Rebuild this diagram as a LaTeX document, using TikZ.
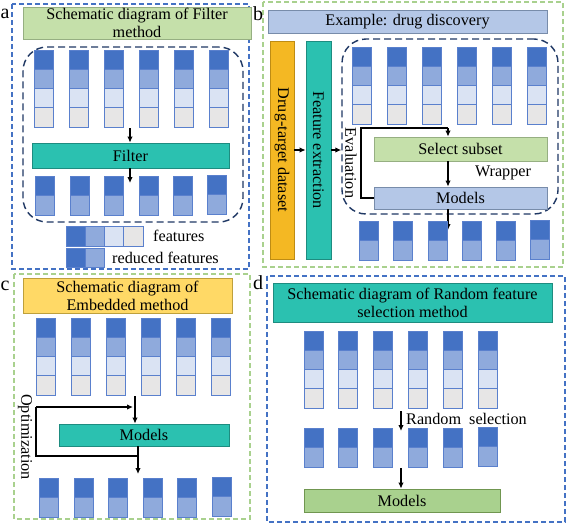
\documentclass[tikz,border=0pt]{standalone}
\usepackage{fontspec}
\setmainfont{Liberation Serif}
\usetikzlibrary{arrows.meta}
\definecolor{cA}{RGB}{68,114,196}
\definecolor{cB}{RGB}{143,170,220}
\definecolor{cC}{RGB}{218,227,243}
\definecolor{cD}{RGB}{231,230,230}
\definecolor{cBd}{RGB}{90,128,205}
\definecolor{teal}{RGB}{43,193,176}
\definecolor{tealBd}{RGB}{30,140,128}
\definecolor{orng}{RGB}{244,184,35}
\definecolor{orngBd}{RGB}{190,140,20}
\definecolor{ltgreen}{RGB}{197,224,170}
\definecolor{ltgreenBd}{RGB}{150,175,130}
\definecolor{mgreen}{RGB}{169,209,142}
\definecolor{mgreenBd}{RGB}{112,150,80}
\definecolor{ltblue}{RGB}{180,199,231}
\definecolor{ltblueBd}{RGB}{120,140,170}
\definecolor{yell}{RGB}{255,217,102}
\definecolor{yellBd}{RGB}{190,160,60}
\definecolor{navy}{RGB}{31,56,100}
\definecolor{frB}{RGB}{68,114,196}
\definecolor{frG}{RGB}{169,209,142}
\tikzset{
  every node/.style={font=\fontsize{16.2}{18}\selectfont},
  fullcol/.pic={
    \foreach \i/\c in {0/cA,1/cB,2/cC,3/cD}
      \path[draw=cBd, fill=\c, line width=0.7pt] (0,\i*19.25) rectangle ++(19,19.25);
  },
  redcol/.pic={
    \foreach \i/\c in {0/cA,1/cB}
      \path[draw=cBd, fill=\c, line width=0.7pt] (0,\i*19.5) rectangle ++(19,19.5);
  },
  frameblue/.style={draw=frB, dash pattern=on 5pt off 3pt, line width=1.3pt},
  framegreen/.style={draw=frG, dash pattern=on 5pt off 3pt, line width=1.2pt},
  region/.style={draw=navy, dash pattern=on 7pt off 4pt, line width=1.4pt, rounded corners=24pt, inner sep=0pt},
  box/.style={rectangle, inner sep=0pt, line width=0.8pt, align=center},
  arr/.style={-{Latex[length=6pt,width=5.5pt]}, line width=1.4pt},
  loopln/.style={line width=1.3pt},
  lbl/.style={font=\fontsize{20}{22}\selectfont}
}
\begin{document}
\begin{tikzpicture}[x=1pt,y=-1pt]
\useasboundingbox[fill=white] (0,0) rectangle (567,525);

% ================= Panel a =================
\draw[framegreen] (14,274) rectangle (250,519);
\draw[frameblue] (12,4) rectangle (249,269);
\node[lbl] (la) at (5,14) {a};
\node[box, fill=ltgreen, draw=ltgreenBd, minimum width=228pt, minimum height=32pt] (tA) at (137,23) {Schematic diagram of Filter\\method};
\node[region, minimum width=220pt, minimum height=175pt] (regA) at (133,134.5) {};
\foreach \x in {34,69,104,139,174,209} \pic at (\x,50) {fullcol};
\node[box, fill=teal, draw=tealBd, minimum width=197pt, minimum height=25pt] (filterA) at (130.5,155.5) {Filter};
\coordinate (aTop) at (130,128);
\coordinate (aBot) at (130,183);
\draw[arr] (aTop) -- (aTop |- filterA.north);
\draw[arr] (aTop |- filterA.south) -- (aBot);
\foreach \x in {35,70,104,139,173} \pic at (\x,176) {redcol};
\pic at (207,175) {redcol};
% legend
\foreach \i/\c in {0/cA,1/cB,2/cC,3/cD}
  \path[draw=cBd, fill=\c, line width=0.7pt] (66+\i*19.25,226) rectangle ++(19.25,20);
\foreach \i/\c in {0/cA,1/cB}
  \path[draw=cBd, fill=\c, line width=0.7pt] (66+\i*19,248) rectangle ++(19,19);
\node[anchor=west, inner sep=0pt] (featA) at (153,236) {features};
\node[anchor=west, inner sep=0pt] (redA) at (112,258) {reduced features};

% ================= Panel b =================
\draw[framegreen] (263,2) rectangle (563,267);
\node[lbl] (lb) at (258,14) {b};
\node[box, fill=ltblue, draw=ltblueBd, minimum width=279pt, minimum height=23pt] (tB) at (407.5,21.5) {Example: drug discovery};
\node[box, fill=orng, draw=orngBd, rotate=-90, minimum width=218pt, minimum height=24pt] (dsB) at (282,150) {Drug-target dataset};
\node[box, fill=teal, draw=tealBd, rotate=-90, minimum width=218pt, minimum height=25pt] (feB) at (318.5,150) {Feature extraction};
\node[region, minimum width=216pt, minimum height=175pt] (regB) at (450,126.5) {};
\draw[arr] (dsB.north) -- (feB.south);
\draw[arr] (feB.north) -- (feB.north -| regB.west);
\foreach \x in {352,387,422,457,492,527} \pic at (\x,47) {fullcol};
\node[box, fill=ltgreen, draw=ltgreenBd, minimum width=173pt, minimum height=24pt] (selB) at (460.5,149) {Select subset};
\node[box, fill=ltblue, draw=ltblueBd, minimum width=173pt, minimum height=22pt] (modB) at (460.5,198) {Models};
\node[rotate=-90, inner sep=0pt] (evB) at (351,163) {Evaluation};
\node (wrB) at (503,173) {Wrapper};
\coordinate (bLoopL) at (361,128);
\coordinate (bOut) at (448,230);
\draw[loopln] (modB.west) -- (modB.west -| bLoopL) -- (bLoopL) -- (bLoopL -| bOut);
\draw[arr] (bLoopL -| bOut) -- (bOut |- selB.north);
\draw[arr] (bOut |- selB.south) -- (bOut |- modB.north);
\draw[arr] (bOut |- modB.south) -- (bOut);
\foreach \x in {359,393,428,462,496} \pic at (\x,221) {redcol};
\pic at (530,220) {redcol};

% ================= Panel c =================
\node[lbl] (lc) at (5,286) {c};
\node[box, fill=yell, draw=yellBd, minimum width=209pt, minimum height=35pt] (tC) at (127.5,295.5) {Schematic diagram of\\Embedded method};
\foreach \x in {36,71,106,141,176,211} \pic at (\x,318) {fullcol};
\node[box, fill=teal, draw=tealBd, minimum width=170pt, minimum height=22pt] (modC) at (144,435) {Models};
\coordinate (cIn) at (135,396);
\draw[arr] (cIn) -- (cIn |- modC.north);
\coordinate (cOut) at (138,474);
\coordinate (cJ) at (138,456);
\coordinate (cL) at (36,407);
\draw[arr] (cOut |- modC.south) -- (cOut);
\draw[loopln] (cJ) -- (cJ -| cL) -- (cL);
\draw[arr] (cL) -- (133,407);
\node[rotate=-90, inner sep=0pt] (optC) at (25,437) {Optimization};
\foreach \x in {39,74,108,143,177} \pic at (\x,478) {redcol};
\pic at (212,477) {redcol};

% ================= Panel d =================
\draw[frameblue] (267,276) rectangle (565,522);
\node[lbl] (ld) at (258,283) {d};
\node[box, fill=teal, draw=tealBd, minimum width=279pt, minimum height=39pt] (tD) at (412.5,302.5) {Schematic diagram of Random feature\\selection method};
\foreach \x in {304,338,373,408,443,478} \pic at (\x,331) {fullcol};
\coordinate (dA) at (401,411);
\coordinate (dB) at (401,431);
\draw[arr] (dA) -- (dB);
\node[anchor=west, inner sep=0pt] (rsD) at (406,419) {Random\ \ selection};
\foreach \x in {304,338,373,408,443} \pic at (\x,428) {redcol};
\pic at (478,427) {redcol};
\node[box, fill=mgreen, draw=mgreenBd, minimum width=196pt, minimum height=23pt] (modD) at (402,500.5) {Models};
\coordinate (dC) at (401,468);
\draw[arr] (dC) -- (dC |- modD.north);
\end{tikzpicture}
\end{document}
